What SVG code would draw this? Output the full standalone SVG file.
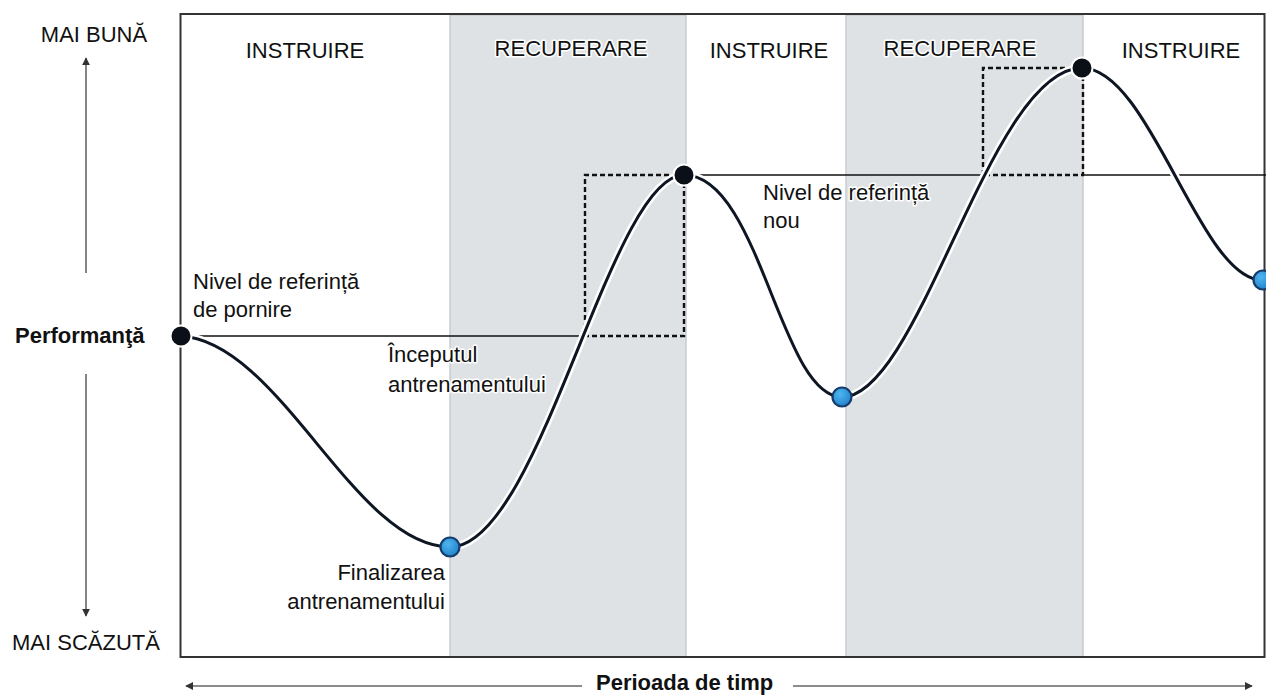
<svg xmlns="http://www.w3.org/2000/svg" width="1266" height="695" viewBox="0 0 1266 695">
<style>
.t{font-family:"Liberation Sans",Arial,sans-serif;font-size:22px;fill:#111;}
.h{paint-order:stroke;stroke:#fff;stroke-width:3px;stroke-linejoin:round;}
.b{font-weight:bold;}
.band{fill:#dfe2e5;stroke:#c9ccd0;stroke-width:1.5;}
.axis{stroke:#666;stroke-width:1.6;fill:none;}
.ref{stroke:#111;stroke-width:1.6;fill:none;}
.dash{stroke:#111;stroke-width:2.4;fill:none;stroke-dasharray:5 3;}
.halo{stroke:#fff;stroke-width:8;fill:none;stroke-linecap:round;}
.curve{stroke:#0d1622;stroke-width:3;fill:none;stroke-linecap:round;}
.peak{fill:#0b1018;stroke:#fff;stroke-width:2;}
.low{stroke:#163c6c;stroke-width:2.2;}
</style>
<defs>
<marker id="ah" viewBox="0 0 10 10" refX="9" refY="5" markerWidth="5" markerHeight="5" orient="auto" markerUnits="strokeWidth">
<path d="M0,0 L10,5 L0,10 z" fill="#333"/>
</marker>
<radialGradient id="bg" cx="0.4" cy="0.35" r="0.7">
<stop offset="0" stop-color="#4fb6f0"/>
<stop offset="1" stop-color="#1f7fc8"/>
</radialGradient>
</defs>
<rect width="1266" height="695" fill="#fff"/>
<g id="bands">
<rect class="band" x="450" y="15" width="236" height="642"/>
<rect class="band" x="846" y="15" width="237" height="642"/>
</g>
<rect id="frame" x="180.5" y="14" width="1084" height="643" fill="none" stroke="#333" stroke-width="2"/>
<g id="phase-labels">
<text class="t h" x="305" y="58" text-anchor="middle">INSTRUIRE</text>
<text class="t h" x="571" y="56" text-anchor="middle">RECUPERARE</text>
<text class="t h" x="769" y="58" text-anchor="middle">INSTRUIRE</text>
<text class="t h" x="960" y="56" text-anchor="middle">RECUPERARE</text>
<text class="t h" x="1181" y="58" text-anchor="middle">INSTRUIRE</text>
</g>
<g id="axes">
<line class="axis" x1="86" y1="273" x2="86" y2="58" marker-end="url(#ah)"/>
<line class="axis" x1="86" y1="374" x2="86" y2="616" marker-end="url(#ah)"/>
<line class="axis" x1="582" y1="686" x2="186" y2="686" marker-end="url(#ah)"/>
<line class="axis" x1="793" y1="686" x2="1252" y2="686" marker-end="url(#ah)"/>
<text class="t" x="94" y="42" text-anchor="middle">MAI BUNĂ</text>
<text class="t" x="86" y="650" text-anchor="middle">MAI SCĂZUTĂ</text>
<text class="t b" x="15" y="343">Performanţă</text>
<text class="t b" x="596" y="690">Perioada de timp</text>
</g>
<g id="connectors">
<line class="ref" x1="181" y1="336" x2="585" y2="336"/>
<line class="ref" x1="684" y1="175" x2="983" y2="175"/>
<line class="ref" x1="1083" y1="175" x2="1266" y2="175"/>
<path class="dash" d="M585,336 V175 H684 M684,175 V336 H585"/>
<path class="dash" d="M983,175 V68 H1082 M1083,68 V175 H983"/>
<path class="halo" d="M181,336 C280,342 355,547 450,547 C540,547 610,175 684,175 C760,175 780,397 842,397 C920,397 990,68 1082,68 C1150,68 1200,280 1262,280"/>
<path class="curve" d="M181,336 C280,342 355,547 450,547 C540,547 610,175 684,175 C760,175 780,397 842,397 C920,397 990,68 1082,68 C1150,68 1200,280 1262,280"/>
</g>
<g id="node-start"><circle class="peak" cx="181" cy="336" r="10.5"/></g>
<g id="node-low1"><circle class="low" fill="url(#bg)" cx="450" cy="547" r="9.5"/></g>
<g id="node-peak1"><circle class="peak" cx="684" cy="175" r="10.5"/></g>
<g id="node-low2"><circle class="low" fill="url(#bg)" cx="842" cy="397" r="9.5"/></g>
<g id="node-peak2"><circle class="peak" cx="1082" cy="68" r="10.5"/></g>
<g id="node-low3"><circle class="low" fill="url(#bg)" cx="1263" cy="280" r="9.5"/></g>
<g id="annotations">
<text class="t h" x="193" y="289">Nivel de referință</text>
<text class="t h" x="193" y="317">de pornire</text>
<text class="t h" x="388" y="362">Începutul</text>
<text class="t h" x="388" y="392">antrenamentului</text>
<text class="t h" x="763" y="200">Nivel de referință</text>
<text class="t h" x="763" y="228">nou</text>
<text class="t h" x="445" y="580" text-anchor="end">Finalizarea</text>
<text class="t h" x="445" y="609" text-anchor="end">antrenamentului</text>
</g>
</svg>
